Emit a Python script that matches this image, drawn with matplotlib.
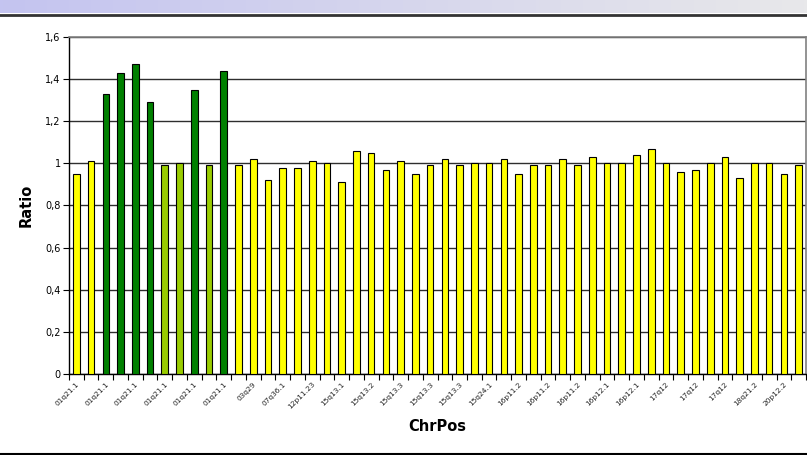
import numpy as np
import matplotlib
matplotlib.use("Agg")
from matplotlib import pyplot as plt

# ratio per probe position
ratios = [0.95, 1.01, 1.33, 1.43, 1.47, 1.29, 0.99, 1.00, 1.35, 0.99,
          1.44, 0.99, 1.02, 0.92, 0.98, 0.98, 1.01, 1.00, 0.91, 1.06,
          1.05, 0.97, 1.01, 0.95, 0.99, 1.02, 0.99, 1.00, 1.00, 1.02,
          0.95, 0.99, 0.99, 1.02, 0.99, 1.03, 1.00, 1.00, 1.04, 1.07,
          1.00, 0.96, 0.97, 1.00, 1.03, 0.93, 1.00, 1.00, 0.95, 0.99]
# colour group for each bar: y = yellow, d = dark green, l = light green
groups = "yyddddlldld" + "y" * 39
tick_labels = ["01q21.1"] * 6 + ["03q29", "07q36.1", "12p11.23", "15q13.1",
               "15q13.2", "15q13.3", "15q13.3", "15q13.3", "15q24.1",
               "16p11.2", "16p11.2", "16p11.2", "16p12.1", "16p12.1",
               "17q12", "17q12", "17q12", "18q21.2", "20p12.2"]
y_ticks = [0, 0.2, 0.4, 0.6, 0.8, 1.0, 1.2, 1.4, 1.6]
y_tick_labels = ["0", "0,2", "0,4", "0,6", "0,8", "1", "1,2", "1,4", "1,6"]

palette = {"y": "#ffff00", "d": "#008000", "l": "#99cc00"}

fig = plt.figure(figsize=(8.07, 4.55), dpi=100)

# header band with gradient
hdr = fig.add_axes([0, 1 - 13.5 / 455, 1, 13.5 / 455])
grad = np.linspace(0, 1, 256)
left = np.array([196, 196, 240]) / 255
right = np.array([232, 232, 234]) / 255
img = left[None, :] * (1 - grad[:, None]) + right[None, :] * grad[:, None]
hdr.imshow(img[None, :, :], aspect="auto", extent=[0, 1, 0, 1])
hdr.axis("off")
fig.add_artist(plt.Line2D([0, 1], [1 - 14.5 / 455] * 2, color="#333333", lw=2))
fig.add_artist(plt.Line2D([0, 1], [1 - 453.5 / 455] * 2, color="black", lw=1.5))

ax = fig.add_axes([69 / 807, 1 - 374 / 455, 737 / 807, 337 / 455])
x = np.arange(len(ratios))
ax.bar(x, ratios, width=0.45, color=[palette[g] for g in groups],
       edgecolor="black", linewidth=0.8, zorder=3)

ax.set_xlim(-0.5, len(ratios) - 0.5)
ax.set_ylim(0, 1.6)
ax.set_yticks(y_ticks)
ax.set_yticklabels(y_tick_labels, fontsize=7)
ax.yaxis.grid(True, color="#2e2e2e", linewidth=1, zorder=0)

ax.set_xticks(x[::2])
ax.set_xticklabels(tick_labels, rotation=45, ha="right", rotation_mode="anchor",
                   fontsize=5.3, color="#222222")
ax.tick_params(axis="x", which="major", length=0, pad=5)
ax.set_xticks(np.arange(-0.5, len(ratios), 1), minor=True)
ax.tick_params(axis="x", which="minor", length=4, width=0.8)
ax.tick_params(axis="y", length=4, width=0.8, pad=2)

for side in ["top", "right"]:
    ax.spines[side].set_color("#808080")
    ax.spines[side].set_linewidth(1.2)
ax.spines["left"].set_linewidth(1)
ax.spines["bottom"].set_linewidth(1)

ax.set_ylabel("Ratio", fontsize=10.5, fontweight="bold", labelpad=8)
ax.set_xlabel("ChrPos", fontsize=10.5, fontweight="bold", labelpad=6)

fig.savefig("out.png", dpi=100)
